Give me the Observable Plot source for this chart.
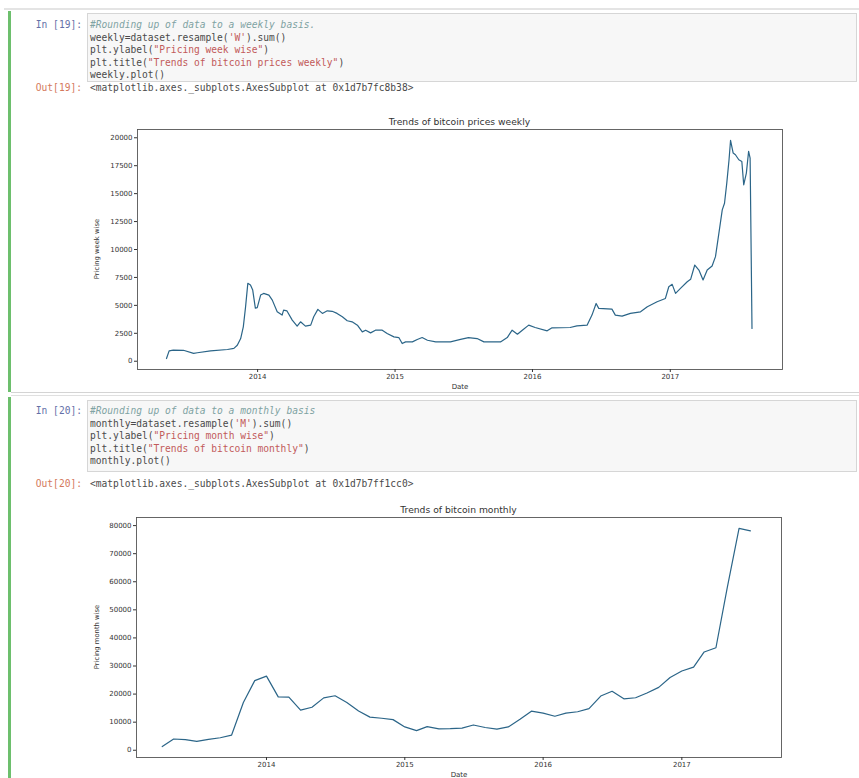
<!DOCTYPE html>
<html><head><meta charset="utf-8">
<script src="https://cdn.jsdelivr.net/npm/d3@7"></script>
<script src="https://cdn.jsdelivr.net/npm/@observablehq/plot@0.6"></script>
<style>
html,body{margin:0;padding:0;background:#fff}
body{width:859px;height:778px;overflow:hidden;position:relative;font-family:"DejaVu Sans",sans-serif}
.a{position:absolute}
.mono{font-family:"DejaVu Sans Mono",monospace;white-space:pre;font-size:9.6px;line-height:12.5px;height:12.5px}
.ln{left:90px;color:#4a4a4a}
.cm{color:#7fa3a3;font-style:italic}
.st{color:#c25a5a}
.tx{color:#4a4a4a}
.prompt{text-align:right;width:62px;left:20px}
.pin{color:#6470a8}
.pout{color:#d4795c}
.title{font-size:9.2px;color:#333;text-align:center;width:645px;line-height:11px}
.ylab{font-size:6.8px;color:#333;width:120px;text-align:center;line-height:8px;transform:rotate(-90deg);transform-origin:50% 50%}
</style></head><body>
<div class="a" style="left:4px;top:8px;width:855px;height:2px;background:#e4e4e4"></div>
<div class="a" style="left:8px;top:11px;width:3px;height:381px;background:#6dbf6d"></div>
<div class="a" style="left:11px;top:392px;width:848px;height:1px;background:#d4d4d4"></div>
<div class="a" style="left:11px;top:395px;width:848px;height:1px;background:#e0e0e0"></div>
<div class="a" style="left:8px;top:397px;width:3px;height:381px;background:#6dbf6d"></div>

<div class="a" style="left:87px;top:13px;width:768px;height:67px;background:#f7f7f7;border:1px solid #d6d6d6"></div>
<div class="a mono prompt pin" style="top:19px">In [19]:</div>
<div class="a mono ln" style="top:19px"><span class="cm">#Rounding up of data to a weekly basis.</span></div>
<div class="a mono ln" style="top:31.5px"><span class="tx">weekly=dataset.resample(</span><span class="st">'W'</span><span class="tx">).sum()</span></div>
<div class="a mono ln" style="top:44px"><span class="tx">plt.ylabel(</span><span class="st">"Pricing week wise"</span><span class="tx">)</span></div>
<div class="a mono ln" style="top:56.5px"><span class="tx">plt.title(</span><span class="st">"Trends of bitcoin prices weekly"</span><span class="tx">)</span></div>
<div class="a mono ln" style="top:69px"><span class="tx">weekly.plot()</span></div>
<div class="a mono prompt pout" style="top:82px">Out[19]:</div>
<div class="a mono ln" style="top:82px">&lt;matplotlib.axes._subplots.AxesSubplot at 0x1d7b7fc8b38&gt;</div>
<div class="a title" style="left:137px;top:116px">Trends of bitcoin prices weekly</div>
<div class="a ylab" style="left:37px;top:245px">Pricing week wise</div>

<div class="a" style="left:87px;top:400px;width:768px;height:70px;background:#f7f7f7;border:1px solid #d6d6d6"></div>
<div class="a mono prompt pin" style="top:405px">In [20]:</div>
<div class="a mono ln" style="top:405px"><span class="cm">#Rounding up of data to a monthly basis</span></div>
<div class="a mono ln" style="top:417.5px"><span class="tx">monthly=dataset.resample(</span><span class="st">'M'</span><span class="tx">).sum()</span></div>
<div class="a mono ln" style="top:430px"><span class="tx">plt.ylabel(</span><span class="st">"Pricing month wise"</span><span class="tx">)</span></div>
<div class="a mono ln" style="top:442.5px"><span class="tx">plt.title(</span><span class="st">"Trends of bitcoin monthly"</span><span class="tx">)</span></div>
<div class="a mono ln" style="top:455px"><span class="tx">monthly.plot()</span></div>
<div class="a mono prompt pout" style="top:478px">Out[20]:</div>
<div class="a mono ln" style="top:478px">&lt;matplotlib.axes._subplots.AxesSubplot at 0x1d7b7ff1cc0&gt;</div>
<div class="a title" style="left:136px;top:504px">Trends of bitcoin monthly</div>
<div class="a ylab" style="left:37px;top:633px">Pricing month wise</div>

<div id="c1" class="a" style="left:0;top:110px"></div>
<div id="c2" class="a" style="left:0;top:497px"></div>
<script>
const yearLabels = ["2014", "2015", "2016", "2017"];
const weeklyYTicks = [0, 2500, 5000, 7500, 10000, 12500, 15000, 17500, 20000];
const monthlyYTicks = [0, 10000, 20000, 30000, 40000, 50000, 60000, 70000, 80000];
const weeklyXDomain = ["2013-02-16", "2017-10-26"];
const weeklyYDomain = [-740, 20740];
const monthlyXDomain = ["2013-01-23", "2017-09-21"];
const monthlyYDomain = [-2585, 82885];

const weeklyDates = [
"2013-05-04","2013-05-11","2013-05-22","2013-06-18","2013-07-15","2013-07-25","2013-08-29","2013-10-13",
"2013-10-30","2013-11-08","2013-11-17","2013-11-24","2013-11-30","2013-12-06","2013-12-13","2013-12-19",
"2013-12-26","2013-12-31","2014-01-09","2014-01-17","2014-01-31","2014-02-09","2014-02-22","2014-03-07",
"2014-03-11","2014-03-20","2014-04-03","2014-04-16","2014-04-25","2014-05-08","2014-05-22","2014-05-30",
"2014-06-10","2014-06-22","2014-07-05","2014-07-18","2014-07-31","2014-08-14","2014-08-27","2014-09-09",
"2014-09-23","2014-10-06","2014-10-15","2014-10-28","2014-11-10","2014-11-28","2014-12-11","2014-12-29",
"2015-01-11","2015-01-20","2015-01-29","2015-02-16","2015-03-01","2015-03-14","2015-03-28","2015-04-19",
"2015-05-28","2015-06-24","2015-07-15","2015-08-07","2015-08-25","2015-10-08","2015-10-26","2015-11-08",
"2015-11-22","2015-12-05","2015-12-22","2016-01-08","2016-02-09","2016-02-22","2016-04-10","2016-04-28",
"2016-05-25","2016-06-07","2016-06-18","2016-06-25","2016-07-30","2016-08-08","2016-08-26","2016-09-17",
"2016-10-14","2016-11-01","2016-11-27","2016-12-19","2016-12-28","2017-01-06","2017-01-15","2017-01-28",
"2017-02-15","2017-02-24","2017-03-07","2017-03-18","2017-03-29","2017-04-09","2017-04-22","2017-05-01",
"2017-05-10","2017-05-19","2017-05-25","2017-05-31","2017-06-06","2017-06-10","2017-06-17","2017-06-23",
"2017-07-02","2017-07-10","2017-07-15","2017-07-22","2017-07-28","2017-08-01","2017-08-06"];
const weeklyValues = [
240,925,990,980,700,760,920,1050,
1150,1435,2030,3080,4870,6970,6820,6370,
4750,4800,5920,6070,5920,5470,4420,4130,
4575,4500,3680,3140,3530,3140,3230,3975,
4640,4280,4510,4470,4280,3975,3620,3530,
3230,2630,2780,2540,2780,2780,2480,2180,
2120,1585,1730,1730,1950,2120,1880,1730,
1730,1950,2120,2030,1730,1730,2120,2780,
2420,2780,3230,3020,2720,2990,3020,3170,
3230,4130,5170,4730,4665,4130,4040,4280,
4420,4870,5320,5620,6665,6880,6070,6520,
7110,7330,8610,8160,7270,8160,8520,9360,
11450,13545,14140,15940,18030,19760,18630,18480,
18030,17880,15790,16840,18780,18180,2930];

const monthlyDates = [
"2013-04","2013-05","2013-06","2013-07","2013-08","2013-09","2013-10","2013-11","2013-12",
"2014-01","2014-02","2014-03","2014-04","2014-05","2014-06","2014-07","2014-08","2014-09","2014-10","2014-11","2014-12",
"2015-01","2015-02","2015-03","2015-04","2015-05","2015-06","2015-07","2015-08","2015-09","2015-10","2015-11","2015-12",
"2016-01","2016-02","2016-03","2016-04","2016-05","2016-06","2016-07","2016-08","2016-09","2016-10","2016-11","2016-12",
"2017-01","2017-02","2017-03","2017-04","2017-05","2017-06","2017-07"];
const monthlyValues = [
1300,4000,3750,3150,3900,4450,5400,17000,24800,
26400,19000,18900,14300,15300,18650,19400,17000,14000,11800,11400,10900,
8300,7000,8400,7600,7700,7900,9000,8100,7500,8300,11000,13900,
13200,12100,13200,13700,14800,19300,21000,18300,18700,20400,22400,25900,
28200,29600,35000,36500,58000,79000,78100];

const lineColor = "#2b6588";
const parse = s => new Date(s.length === 7 ? s + "-01" : s);

function makeChart({dates, values, yTicks, xDomain, yDomain, height, mt, mb, ml, mr}) {
  const data = dates.map((d, i) => ({date: parse(d), value: values[i]}));
  return Plot.plot({
    width: 859, height,
    marginLeft: ml, marginRight: mr, marginTop: mt, marginBottom: mb,
    style: {background: "transparent", color: "#333", fontFamily: "DejaVu Sans, sans-serif"},
    x: {type: "utc", domain: xDomain.map(parse)},
    y: {domain: yDomain},
    marks: [
      Plot.frame({stroke: "#555", strokeWidth: 0.9}),
      Plot.axisX({ticks: yearLabels.map(parse), tickFormat: d3.utcFormat("%Y"), tickSize: 3, tickPadding: 2, fontSize: 7, label: null}),
      Plot.axisY({ticks: yTicks, tickFormat: d3.format("d"), tickSize: 3, tickPadding: 2, fontSize: 7, label: null}),
      Plot.line(data, {x: "date", y: "value", stroke: lineColor, strokeWidth: 1.2}),
      Plot.text(["Date"], {frameAnchor: "bottom", dy: 19, fontSize: 7, fill: "#333"})
    ]
  });
}

document.getElementById("c1").append(makeChart({
  dates: weeklyDates, values: weeklyValues, yTicks: weeklyYTicks,
  xDomain: weeklyXDomain, yDomain: weeklyYDomain,
  height: 285, mt: 19, mb: 26, ml: 137, mr: 77
}));
document.getElementById("c2").append(makeChart({
  dates: monthlyDates, values: monthlyValues, yTicks: monthlyYTicks,
  xDomain: monthlyXDomain, yDomain: monthlyYDomain,
  height: 281, mt: 20, mb: 21, ml: 136, mr: 78
}));
</script>
</body></html>
